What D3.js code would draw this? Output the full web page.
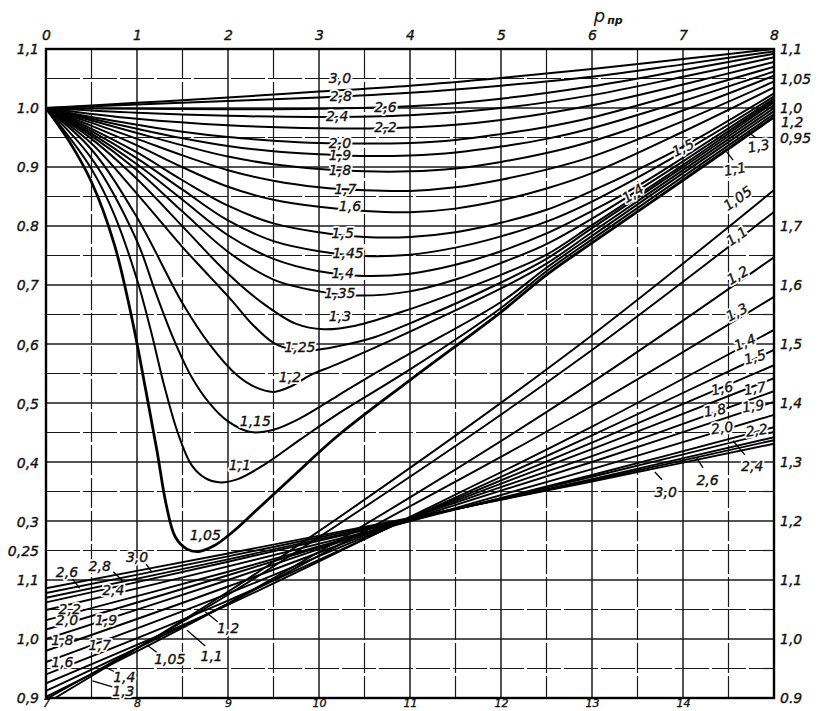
<!DOCTYPE html>
<html><head><meta charset="utf-8">
<script src="https://cdn.jsdelivr.net/npm/d3@7"></script>
<style>
html,body{margin:0;padding:0;background:#fff;}
svg{display:block;}
text{font-family:"DejaVu Sans",Arial,sans-serif;font-style:oblique;fill:#111;}
</style></head><body>
<svg id="chart" width="819" height="711"></svg>
<script>
// ---------- axis ticks ----------
const topTicks = [0,1,2,3,4,5,6,7,8];
const bottomTicks = [7,8,9,10,11,12,13,14];
const leftUpperTicks = [1.1,1.0,0.9,0.8,0.7,0.6,0.5,0.4,0.3,0.25];
const leftUpperLabels = ["1,1","1.0","0.9","0.8","0,7","0,6","0,5","0,4","0,3","0,25"];
const leftLowerTicks = [1.1,1.0,0.9];
const leftLowerLabels = ["1,1","1,0","0,9"];
const rightUpperTicks = [1.1,1.05,1.0,0.95];
const rightUpperLabels = ["1,1","1,05","1,0","0,95"];
const rightLowerTicks = [1.7,1.6,1.5,1.4,1.3,1.2,1.1,1.0,0.9];
const rightLowerLabels = ["1,7","1,6","1,5","1,4","1,3","1,2","1,1","1,0","0.9"];

// ---------- upper family: z vs p_r (0..8), left scale ----------
const up105 = [[0,1],[0.25,0.945],[0.5,0.875],[0.75,0.77],[0.95,0.64],[1.1,0.52],[1.22,0.42],[1.32,0.33],[1.42,0.275],[1.55,0.254],[1.68,0.25],[1.85,0.26],[2.05,0.283],[2.3,0.318],[2.7,0.375],[3.2,0.445],[4,0.54],[5,0.655],[5.5,0.718],[6,0.772],[7,0.878],[8,0.985]];
const up110 = [[0,1],[0.25,0.952],[0.5,0.897],[0.75,0.82],[1,0.71],[1.15,0.625],[1.3,0.53],[1.45,0.45],[1.6,0.396],[1.75,0.374],[1.9,0.367],[2.1,0.372],[2.4,0.397],[2.8,0.44],[3.2,0.482],[4,0.558],[5,0.662],[5.5,0.724],[6,0.778],[7,0.884],[8,0.99]];
const up115 = [[0,1],[0.5,0.915],[1,0.775],[1.2,0.69],[1.4,0.61],[1.6,0.545],[1.8,0.5],[2,0.47],[2.25,0.452],[2.5,0.456],[2.8,0.476],[3.2,0.513],[3.6,0.55],[4,0.585],[5,0.672],[5.5,0.73],[6,0.784],[7,0.89],[8,0.995]];
const up120 = [[0,1],[0.5,0.93],[1,0.815],[1.5,0.67],[1.8,0.6],[2.1,0.548],[2.3,0.528],[2.5,0.52],[2.7,0.53],[2.9,0.548],[3.2,0.567],[4,0.622],[5,0.695],[5.5,0.737],[6,0.79],[7,0.895],[8,1.0]];
const up125 = [[0,1],[0.5,0.94],[1,0.855],[1.5,0.765],[1.8,0.715],[2.05,0.673],[2.25,0.637],[2.5,0.603],[2.7,0.592],[2.9,0.59],[3.2,0.597],[3.6,0.612],[4,0.636],[5,0.705],[5.5,0.745],[6,0.797],[7,0.9],[8,1.005]];
const up130 = [[0,1],[0.5,0.948],[1,0.88],[1.5,0.8],[2,0.72],[2.4,0.668],[2.75,0.635],[3.05,0.626],[3.4,0.632],[4,0.66],[4.5,0.688],[5,0.718],[5.5,0.752],[6,0.802],[7,0.904],[8,1.01]];
const up135 = [[0,1],[0.5,0.953],[1,0.895],[1.5,0.825],[2,0.757],[2.5,0.71],[3,0.69],[3.4,0.683],[4,0.69],[4.5,0.71],[5,0.738],[5.5,0.77],[6,0.813],[7,0.91],[8,1.013]];
const up140 = [[0,1],[0.5,0.957],[1,0.905],[1.5,0.845],[2,0.785],[2.5,0.745],[3,0.724],[3.5,0.716],[4,0.72],[4.5,0.735],[5,0.758],[5.5,0.788],[6,0.826],[6.5,0.868],[7,0.916],[8,1.016]];
const up145 = [[0,1],[0.5,0.961],[1,0.915],[1.5,0.862],[2,0.81],[2.5,0.775],[3,0.758],[3.5,0.75],[4,0.752],[4.5,0.764],[5,0.783],[5.5,0.808],[6,0.842],[7,0.926],[8,1.02]];
const up150 = [[0,1],[0.5,0.965],[1,0.925],[1.5,0.878],[2,0.835],[2.5,0.805],[3,0.79],[3.5,0.782],[4,0.782],[4.5,0.79],[5,0.806],[5.5,0.828],[6,0.86],[7,0.935],[8,1.025]];
const up160 = [[0,1],[0.5,0.97],[1,0.937],[1.5,0.9],[2,0.867],[2.5,0.845],[3,0.833],[3.5,0.826],[4,0.824],[4.5,0.83],[5,0.844],[5.5,0.864],[6,0.89],[7,0.96],[8,1.035]];
const up170 = [[0,1],[0.5,0.975],[1,0.948],[1.5,0.92],[2,0.895],[2.5,0.877],[3,0.866],[3.5,0.861],[4,0.86],[4.5,0.866],[5,0.879],[5.5,0.896],[6,0.918],[7,0.978],[8,1.045]];
const up180 = [[0,1],[0.5,0.979],[1,0.958],[1.5,0.937],[2,0.918],[2.5,0.905],[3,0.897],[3.5,0.893],[4,0.893],[4.5,0.898],[5,0.909],[5.5,0.924],[6,0.944],[7,0.996],[8,1.055]];
const up190 = [[0,1],[0.5,0.982],[1,0.965],[1.5,0.949],[2,0.936],[2.5,0.927],[3,0.922],[3.5,0.919],[4,0.92],[4.5,0.925],[5,0.935],[5.5,0.948],[6,0.966],[7,1.012],[8,1.062]];
const up200 = [[0,1],[0.5,0.985],[1,0.972],[1.5,0.96],[2,0.951],[2.5,0.945],[3,0.941],[3.5,0.94],[4,0.941],[4.5,0.946],[5,0.956],[5.5,0.968],[6,0.984],[7,1.026],[8,1.07]];
const up220 = [[0,1],[1,0.982],[2,0.971],[3,0.966],[3.7,0.966],[4.5,0.972],[5,0.98],[6,1.005],[7,1.04],[8,1.078]];
const up240 = [[0,1],[1,0.992],[2,0.987],[3,0.985],[4,0.988],[5,1.0],[6,1.022],[7,1.053],[8,1.086]];
const up260 = [[0,1],[1,0.999],[2,0.998],[3,0.999],[4,1.003],[5,1.016],[6,1.037],[7,1.064],[8,1.092]];
const up280 = [[0,1],[1,1.006],[2,1.012],[3,1.018],[4,1.026],[5,1.038],[6,1.053],[7,1.074],[8,1.096]];
const up300 = [[0,1],[1,1.009],[2,1.018],[3,1.028],[4,1.038],[5,1.051],[6,1.066],[7,1.083],[8,1.1]];
const upperSeries = [up105,up110,up115,up120,up125,up130,up135,up140,up145,up150,up160,up170,up180,up190,up200,up220,up240,up260,up280,up300];

// upper labels: [text, p, z, rotation]
const upperLabels = [
 ["3,0",3.23,1.051,0],["2,8",3.24,1.02,0],["2,6",3.73,1.002,0],["2,4",3.2,0.987,0],["2,2",3.73,0.968,0],
 ["2,0",3.23,0.941,0],["1,9",3.23,0.921,0],["1,8",3.23,0.895,0],["1,7",3.29,0.863,0],["1,6",3.34,0.834,0],
 ["1,5",3.26,0.789,0],["1,45",3.32,0.755,0],["1,4",3.26,0.721,0],["1,35",3.23,0.687,0],["1,3",3.23,0.648,0],
 ["1,25",2.79,0.596,0],["1,2",2.68,0.545,0],["1,15",2.3,0.471,0],["1,1",2.13,0.396,0],["1,05",1.75,0.278,0],
 ["1,4",6.45,0.856,-33],["1,5",7.0,0.933,-25],["1,1",7.57,0.897,-10],["1,3",7.83,0.936,-10],["1,2",8.2,0.977,0]
];
const upperLeaders = [[7.48,0.926,7.55,0.912],[7.71,0.96,7.8,0.95]];

// ---------- lower family: z vs p_r (7..15), right scale ----------
const lo105 = [[7.1,0.9],[9,1.08],[11,1.29],[13,1.515],[15,1.761]];
const lo110 = [[7,0.898],[9,1.075],[11,1.275],[13,1.49],[15,1.724]];
const lo120 = [[7,0.902],[9,1.06],[11,1.24],[13,1.435],[15,1.647]];
const lo130 = [[7,0.912],[9,1.06],[11,1.225],[13,1.395],[15,1.58]];
const lo140 = [[7,0.925],[9,1.058],[11,1.207],[13,1.36],[15,1.524]];
const lo150 = [[7,0.94],[9,1.065],[11,1.205],[13,1.345],[15,1.49]];
const lo160 = [[7,0.961],[9,1.077],[11,1.205],[13,1.333],[15,1.464]];
const lo170 = [[7,0.98],[9,1.089],[11,1.205],[13,1.322],[15,1.442]];
const lo180 = [[7,1.0],[9,1.1],[11,1.205],[13,1.31],[15,1.42]];
const lo190 = [[7,1.016],[9,1.108],[11,1.203],[13,1.3],[15,1.402]];
const lo200 = [[7,1.032],[9,1.114],[11,1.2],[13,1.288],[15,1.38]];
const lo220 = [[7,1.049],[9,1.123],[11,1.2],[13,1.278],[15,1.359]];
const lo240 = [[7,1.062],[9,1.131],[11,1.202],[13,1.275],[15,1.351]];
const lo260 = [[7,1.07],[9,1.135],[11,1.203],[13,1.271],[15,1.342]];
const lo280 = [[7,1.078],[9,1.14],[11,1.204],[13,1.269],[15,1.337]];
const lo300 = [[7,1.086],[9,1.145],[11,1.205],[13,1.267],[15,1.331]];
const lowerSeries = [lo105,lo110,lo120,lo130,lo140,lo150,lo160,lo170,lo180,lo190,lo200,lo220,lo240,lo260,lo280,lo300];

const lowerLabels = [
 ["1,05",14.6,1.747,-35],["1,1",14.59,1.683,-35],["1,2",14.6,1.617,-30],["1,3",14.59,1.554,-28],["1,4",14.68,1.503,-22],
 ["1,5",14.79,1.478,-15],["1,6",14.43,1.425,-12],["1,7",14.79,1.425,-10],["1,8",14.35,1.388,-10],["1,9",14.77,1.395,-8],
 ["2,0",14.43,1.358,-8],["2,2",14.81,1.354,-8],["2,4",14.76,1.293,0],["2,6",14.27,1.269,0],["3,0",13.81,1.249,0],
 ["2,6",7.23,1.114,0],["2,8",7.59,1.124,0],["3,0",8.0,1.139,0],["2,4",7.74,1.083,0],["2,2",7.26,1.051,0],
 ["2,0",7.23,1.032,0],["1,9",7.66,1.032,0],["1,8",7.18,0.998,0],["1,7",7.59,0.99,0],["1,6",7.18,0.961,0],
 ["1,4",7.86,0.936,0],["1,3",7.85,0.912,0],["1,05",8.36,0.966,0],["1,1",8.82,0.971,0],["1,2",9.0,1.019,0]
];
const lowerLeaders = [
 [14.68,1.312,14.55,1.336],[14.22,1.29,14.15,1.307],[13.77,1.27,13.69,1.283],
 [7.29,1.102,7.37,1.086],[7.74,1.114,7.85,1.097],[8.1,1.127,8.16,1.114],
 [7.76,0.944,7.64,0.953],[7.73,0.919,7.51,0.929],[8.23,0.976,8.11,0.99],
 [8.75,0.988,8.55,1.015],[8.89,1.029,8.75,1.046]
];

// ---------- drawing ----------
const svg = d3.select("#chart");
const L=46, R=774, T=49, B=698;
const xUp = d3.scaleLinear().domain([0,8]).range([L,R]);
const xLow = d3.scaleLinear().domain([7,15]).range([L,R]);
const yUp = d3.scaleLinear().domain([0.25,1.1]).range([551.5,T]);
const yLow = d3.scaleLinear().domain([0.9,2.0]).range([B,T]);

svg.append("defs").append("clipPath").attr("id","plot")
  .append("rect").attr("x",L).attr("y",T).attr("width",R-L).attr("height",B-T);

// grid
const gGrid = svg.append("g").attr("stroke","#1a1a1a").attr("fill","none");
d3.range(0,8.001,0.5).forEach((p,i)=>{
  gGrid.append("line").attr("x1",xUp(p)).attr("x2",xUp(p)).attr("y1",T).attr("y2",B)
    .attr("stroke-width",i%2===0?1.5:1.2)
    .attr("stroke-dasharray",i%2===0?null:"30,3");
});
d3.range(0.9,2.0001,0.05).forEach((z,i)=>{
  gGrid.append("line").attr("x1",L).attr("x2",R).attr("y1",yLow(z)).attr("y2",yLow(z))
    .attr("stroke-width",i%2===0?1.5:1.2)
    .attr("stroke-dasharray",i%2===0?null:"34,3");
});

// curves
const gCurves = svg.append("g").attr("clip-path","url(#plot)").attr("fill","none").attr("stroke","#000");
const lineUp = d3.line().x(d=>xUp(d[0])).y(d=>yUp(d[1])).curve(d3.curveCatmullRom.alpha(0.5));
const lineLow = d3.line().x(d=>xLow(d[0])).y(d=>yLow(d[1])).curve(d3.curveCatmullRom.alpha(0.5));
gCurves.selectAll("path.low").data(lowerSeries).join("path").attr("class","low")
  .attr("d",lineLow).attr("stroke-width",1.9);
gCurves.selectAll("path.up").data(upperSeries).join("path").attr("class","up")
  .attr("d",lineUp).attr("stroke-width",(d,i)=>i===0?2.8:2.0);

// frame
svg.append("rect").attr("x",L).attr("y",T).attr("width",R-L).attr("height",B-T)
  .attr("fill","none").attr("stroke","#000").attr("stroke-width",2.4);

// leaders
const gLead = svg.append("g").attr("stroke","#000").attr("stroke-width",1.3);
gLead.selectAll("line.u").data(upperLeaders).join("line").attr("class","u")
  .attr("x1",d=>xUp(d[0])).attr("y1",d=>yUp(d[1])).attr("x2",d=>xUp(d[2])).attr("y2",d=>yUp(d[3]));
gLead.selectAll("line.l").data(lowerLeaders).join("line").attr("class","l")
  .attr("x1",d=>xLow(d[0])).attr("y1",d=>yLow(d[1])).attr("x2",d=>xLow(d[2])).attr("y2",d=>yLow(d[3]));

// curve labels (white halo interrupts lines, then the glyphs)
function drawLabels(data, xs, ys){
  const g = svg.append("g");
  g.selectAll("text.h").data(data).join("text").attr("class","h")
    .attr("transform",d=>`translate(${xs(d[1])},${ys(d[2])}) rotate(${d[3]})`)
    .attr("text-anchor","middle").attr("dy","0.36em").attr("font-size",14)
    .attr("fill","#fff").attr("stroke","#fff").attr("stroke-width",4).attr("stroke-linejoin","round")
    .text(d=>d[0]);
  g.selectAll("text.t").data(data).join("text").attr("class","t")
    .attr("transform",d=>`translate(${xs(d[1])},${ys(d[2])}) rotate(${d[3]})`)
    .attr("text-anchor","middle").attr("dy","0.36em").attr("font-size",14)
    .attr("stroke","#111").attr("stroke-width",0.35)
    .text(d=>d[0]);
}
drawLabels(upperLabels, xUp, yUp);
drawLabels(lowerLabels, xLow, yLow);

// axes
function styleAxis(g){
  g.select(".domain").remove();
  g.selectAll("text").attr("font-size",14).attr("font-family","DejaVu Sans, Arial, sans-serif")
    .attr("font-style","oblique").attr("fill","#111").attr("stroke","#111").attr("stroke-width",0.35);
}
svg.append("g").attr("transform",`translate(0,${T-3})`)
  .call(d3.axisTop(xUp).tickValues(topTicks).tickSize(0).tickPadding(6).tickFormat(d=>String(d)))
  .call(styleAxis);
svg.append("g").attr("transform",`translate(0,${B})`)
  .call(d3.axisBottom(xLow).tickValues(bottomTicks).tickSize(0).tickPadding(1).tickFormat(d=>String(d)))
  .call(styleAxis)
  .call(g=>g.selectAll("text").attr("font-size",11));
svg.append("g").attr("transform",`translate(${L-7},0)`)
  .call(d3.axisLeft(yUp).tickValues(leftUpperTicks).tickSize(0).tickPadding(0).tickFormat((d,i)=>leftUpperLabels[i]))
  .call(styleAxis);
svg.append("g").attr("transform",`translate(${L-7},0)`)
  .call(d3.axisLeft(yLow).tickValues(leftLowerTicks).tickSize(0).tickPadding(0).tickFormat((d,i)=>leftLowerLabels[i]))
  .call(styleAxis);
svg.append("g").attr("transform",`translate(${R+6},0)`)
  .call(d3.axisRight(yUp).tickValues(rightUpperTicks).tickSize(0).tickPadding(0).tickFormat((d,i)=>rightUpperLabels[i]))
  .call(styleAxis);
svg.append("g").attr("transform",`translate(${R+6},0)`)
  .call(d3.axisRight(yLow).tickValues(rightLowerTicks).tickSize(0).tickPadding(0).tickFormat((d,i)=>rightLowerLabels[i]))
  .call(styleAxis);

// axis title p_пр
const title = svg.append("text").attr("x",xUp(6.02)).attr("y",22).attr("font-size",18);
title.append("tspan").text("p");
title.append("tspan").attr("font-size",11).attr("font-weight","bold").attr("dy",2).attr("dx",2).text("пр");
</script></body></html>
